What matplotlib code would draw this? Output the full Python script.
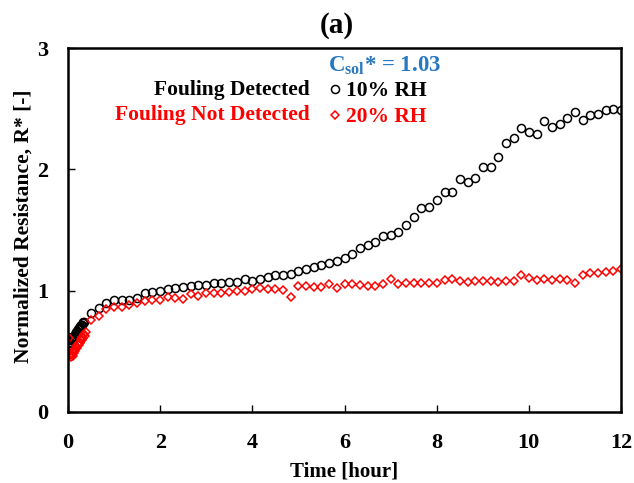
"""Normalized resistance vs time for 10% and 20% RH runs, panel (a)."""
import matplotlib

matplotlib.use("Agg")
import matplotlib.pyplot as plt

plt.rcParams["font.family"] = ["Liberation Serif", "DejaVu Serif"]
plt.rcParams["font.weight"] = "bold"
plt.rcParams["mathtext.fontset"] = "custom"
plt.rcParams["mathtext.rm"] = "Liberation Serif:bold"
plt.rcParams["mathtext.bf"] = "Liberation Serif:bold"

# early, densely logged part of each run (hours, R*)
t_10_early = [0.00, 0.02, 0.03, 0.05, 0.07, 0.08, 0.10, 0.12, 0.13, 0.15, 0.17,
              0.18, 0.20, 0.22, 0.23, 0.25, 0.27, 0.28, 0.30, 0.32, 0.33, 0.35]
r_10_early = [0.62, 0.55, 0.57, 0.58, 0.59, 0.60, 0.61, 0.62, 0.63, 0.64, 0.65,
              0.66, 0.67, 0.68, 0.69, 0.70, 0.71, 0.72, 0.72, 0.73, 0.74, 0.74]

t_20_early = [0.03, 0.05, 0.06, 0.08, 0.10, 0.11, 0.13, 0.15, 0.16, 0.18, 0.20,
              0.21, 0.23, 0.25, 0.26, 0.28, 0.30, 0.31, 0.33, 0.35, 0.36, 0.38]
r_20_early = [0.61, 0.47, 0.45, 0.48, 0.46, 0.50, 0.49, 0.52, 0.50, 0.54, 0.53,
              0.56, 0.55, 0.58, 0.57, 0.60, 0.59, 0.62, 0.61, 0.64, 0.63, 0.66]

# 10-minute readings afterwards
t_late = [0.50, 0.67, 0.83, 1.00, 1.17, 1.33, 1.50, 1.67, 1.83, 2.00,
          2.17, 2.33, 2.50, 2.67, 2.83, 3.00, 3.17, 3.33, 3.50, 3.67,
          3.83, 4.00, 4.17, 4.33, 4.50, 4.67, 4.83, 5.00, 5.17, 5.33,
          5.50, 5.67, 5.83, 6.00, 6.17, 6.33, 6.50, 6.67, 6.83, 7.00,
          7.17, 7.33, 7.50, 7.67, 7.83, 8.00, 8.17, 8.33, 8.50, 8.67,
          8.83, 9.00, 9.17, 9.33, 9.50, 9.67, 9.83, 10.00, 10.17, 10.33,
          10.50, 10.67, 10.83, 11.00, 11.17, 11.33, 11.50, 11.67, 11.83, 12.00]
r_10_late = [0.82, 0.86, 0.90, 0.92, 0.925, 0.92, 0.94, 0.98, 0.99, 1.00,
             1.01, 1.02, 1.03, 1.04, 1.045, 1.05, 1.06, 1.065, 1.07, 1.07,
             1.10, 1.08, 1.10, 1.115, 1.13, 1.13, 1.14, 1.16, 1.175, 1.195,
             1.215, 1.23, 1.245, 1.27, 1.30, 1.35, 1.375, 1.40, 1.45, 1.46,
             1.48, 1.545, 1.61, 1.68, 1.69, 1.75, 1.81, 1.81, 1.92, 1.895,
             1.93, 2.02, 2.02, 2.10, 2.22, 2.26, 2.34, 2.31, 2.295, 2.40,
             2.35, 2.37, 2.42, 2.47, 2.41, 2.45, 2.455, 2.485, 2.50, 2.49]
r_20_late = [0.76, 0.79, 0.85, 0.865, 0.865, 0.884, 0.898, 0.912, 0.92, 0.926,
             0.95, 0.94, 0.931, 0.975, 0.96, 0.978, 0.983, 0.983, 0.99, 0.994,
             1.00, 1.014, 1.022, 1.014, 1.014, 1.008, 0.948, 1.036, 1.036, 1.031,
             1.031, 1.058, 1.022, 1.058, 1.058, 1.05, 1.041, 1.036, 1.055, 1.097,
             1.058, 1.063, 1.063, 1.067, 1.067, 1.067, 1.09, 1.097, 1.077, 1.075,
             1.077, 1.08, 1.08, 1.075, 1.08, 1.08, 1.13, 1.105, 1.09, 1.10,
             1.09, 1.095, 1.09, 1.063, 1.13, 1.146, 1.146, 1.15, 1.165, 1.18]

BLUE = "#2878C0"

fig = plt.figure(figsize=(6.34, 4.83), dpi=100)
ax = fig.add_axes([0.1073, 0.147, 0.8722, 0.7536])

h10, = ax.plot(t_10_early + t_late, r_10_early + r_10_late, "o", ls="none",
               mfc="none", mec="black", ms=5.8, mew=1.1, label="10% RH")
h20, = ax.plot(t_20_early + t_late, r_20_early + r_20_late, "D", ls="none",
               mfc="none", mec="red", ms=3.8, mew=1.1, label="20% RH")

ax.set_xlim(0, 12)
ax.set_ylim(0, 3)
ax.set_xticks(range(0, 13, 2))
ax.set_yticks([0, 1, 2, 3])
ax.tick_params(direction="in", length=5, width=1, labelsize=16)
ax.tick_params(axis="x", pad=15)
ax.tick_params(axis="y", pad=14)
for s in ax.spines.values():
    s.set_linewidth(1.8)

ax.set_xlabel("Time [hour]", fontsize=15, fontweight="bold")
ax.set_ylabel("Normalized Resistance, R* [-]", fontsize=15.5, fontweight="bold")
ax.xaxis.set_label_coords(0.5, -0.135)
ax.yaxis.set_label_coords(-0.063, 0.51)

fig.text(0.532, 0.948, "(a)", ha="center", va="center", fontsize=21,
         fontweight="bold")

ax.text(0.47, 0.952, r"C$_{\mathbf{sol}}$* = 1.03", transform=ax.transAxes,
        color=BLUE, fontsize=16.5, fontweight="bold", ha="left", va="center")
ax.text(0.4376, 0.8846, "Fouling Detected", transform=ax.transAxes,
        fontsize=15.5, fontweight="bold", ha="right", va="center")
ax.text(0.4376, 0.816, "Fouling Not Detected", transform=ax.transAxes,
        color="red", fontsize=15.5, fontweight="bold", ha="right", va="center")

ax.legend(handles=[h10, h20], loc="upper left", bbox_to_anchor=(0.470, 0.9085),
          frameon=False, borderpad=0, borderaxespad=0, handlelength=0.7,
          handletextpad=0.15, labelspacing=0.26, labelcolor=["black", "red"],
          prop={"family": "Liberation Serif", "weight": "bold", "size": 15.5})

fig.savefig("out.png", dpi=100)
